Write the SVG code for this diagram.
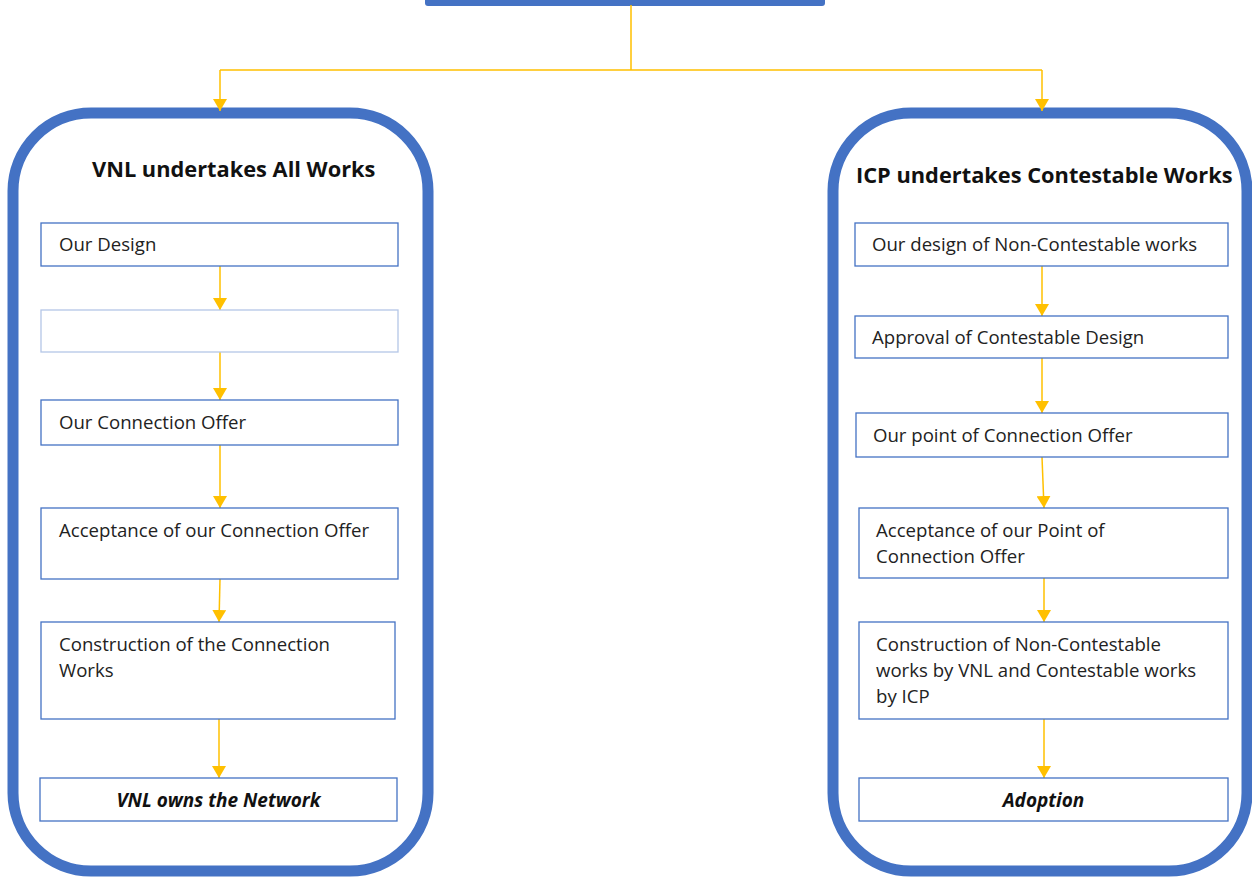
<svg xmlns="http://www.w3.org/2000/svg" width="1252" height="877" viewBox="0 0 1252 877">
<defs>
<marker id="ah" viewBox="0 0 12 14" refX="12" refY="7" markerWidth="12" markerHeight="14" markerUnits="userSpaceOnUse" orient="auto">
<path d="M0,0 L12,7 L0,14 Z" fill="#FFC000"/>
</marker>
<style>
.c{fill:#fff;stroke:#4472C4;stroke-width:11}
.b{fill:#fff;stroke:#4472C4;stroke-width:1.3}
.bl{fill:#fff;stroke:#B4C6E7;stroke-width:1.3}
.t{font-family:"Open Sans",sans-serif;font-size:18.6px;fill:#222}
.h{font-family:"Open Sans",sans-serif;font-size:21.8px;font-weight:bold;fill:#111}
.bi{font-family:"Open Sans",sans-serif;font-size:19px;font-weight:bold;font-style:italic;fill:#111}
.l{fill:none;stroke:#FFC000;stroke-width:1.5;marker-end:url(#ah)}
.ln{fill:none;stroke:#FFC000;stroke-width:1.5}
</style>
</defs>
<rect width="1252" height="877" fill="#fff"/>
<g id="top"><rect x="425" y="-10" width="400" height="16" rx="3" fill="#4472C4"/></g>
<g id="left-container"><rect class="c" x="13" y="113" width="415" height="758" rx="78"/>
<text class="h" x="92" y="177">VNL undertakes All Works</text></g>
<g id="right-container"><rect class="c" x="833" y="113" width="414" height="758" rx="78"/>
<text class="h" x="856" y="183">ICP undertakes Contestable Works</text></g>
<g id="connectors">
<path class="ln" d="M631,5 V70 M220,70 H1042"/>
<path class="l" d="M220,70 V111"/>
<path class="l" d="M1042,70 V111"/>
<path class="l" d="M220,266 V310"/>
<path class="l" d="M220,352 V400"/>
<path class="l" d="M220,445 V508"/>
<path class="l" d="M220,579 L219,622"/>
<path class="l" d="M219,719 V778"/>
<path class="l" d="M1042,266 V316"/>
<path class="l" d="M1042,358 V413"/>
<path class="l" d="M1042,457 L1044,508"/>
<path class="l" d="M1044,578 V622"/>
<path class="l" d="M1044,719 V778"/>
</g>
<g id="l1"><rect class="b" x="41" y="223" width="357" height="43"/><text class="t" x="59" y="251">Our Design</text></g>
<g id="l2"><rect class="bl" x="41" y="310" width="357" height="42"/></g>
<g id="l3"><rect class="b" x="41" y="400" width="357" height="45"/><text class="t" x="59" y="429">Our Connection Offer</text></g>
<g id="l4"><rect class="b" x="41" y="508" width="357" height="71"/><text class="t" x="59" y="537">Acceptance of our Connection Offer</text></g>
<g id="l5"><rect class="b" x="41" y="622" width="354" height="97"/><text class="t" x="59" y="651">Construction of the Connection</text><text class="t" x="59" y="677">Works</text></g>
<g id="l6"><rect class="b" x="40" y="778" width="357" height="43"/><text class="bi" x="218.5" y="807" text-anchor="middle">VNL owns the Network</text></g>
<g id="r1"><rect class="b" x="855" y="223" width="373" height="43"/><text class="t" x="872" y="251">Our design of Non-Contestable works</text></g>
<g id="r2"><rect class="b" x="855" y="316" width="373" height="42"/><text class="t" x="872" y="344">Approval of Contestable Design</text></g>
<g id="r3"><rect class="b" x="856" y="413" width="372" height="44"/><text class="t" x="873" y="442">Our point of Connection Offer</text></g>
<g id="r4"><rect class="b" x="859" y="508" width="369" height="70"/><text class="t" x="876" y="537">Acceptance of our Point of</text><text class="t" x="876" y="563">Connection Offer</text></g>
<g id="r5"><rect class="b" x="859" y="622" width="369" height="97"/><text class="t" x="876" y="651">Construction of Non-Contestable</text><text class="t" x="876" y="677">works by VNL and Contestable works</text><text class="t" x="876" y="703">by ICP</text></g>
<g id="r6"><rect class="b" x="859" y="778" width="369" height="43"/><text class="bi" x="1043.5" y="807" text-anchor="middle">Adoption</text></g>
</svg>
